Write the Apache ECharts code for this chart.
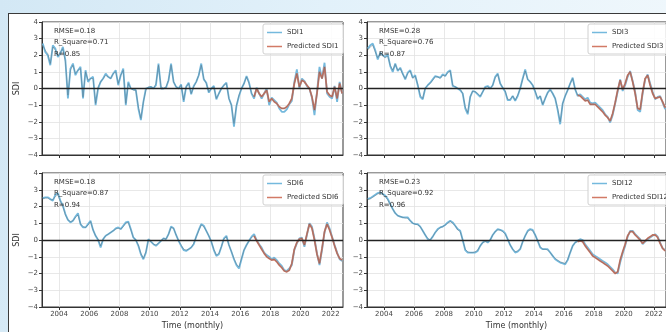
<!DOCTYPE html>
<html>
<head>
<meta charset="utf-8">
<script src="https://cdn.jsdelivr.net/npm/echarts@6/dist/echarts.min.js"></script>
<style>
  html, body { margin: 0; padding: 0; }
  body {
    width: 666px; height: 332px; overflow: hidden; position: relative;
    background: linear-gradient(100deg, #d3e8f5 0%, #e2f1fa 45%, #f1f8fc 100%);
  }
  #frame {
    position: absolute; left: 8px; top: 13px; width: 680px; height: 340px;
    background: #ffffff; border-left: 1.5px solid #3a3a3a; border-top: 1.5px solid #3a3a3a;
  }
  #chart { position: absolute; left: 0; top: 0; width: 666px; height: 332px; }
</style>
</head>
<body>
<div id="frame"></div>
<div id="chart"></div>
<script>
// Monthly-sampled drought index series (one value every two months, Dec 2002 onwards)
const startYear = 2002.92;
const stepYears = 1 / 6;
const testStartIndex = 84;   // first sample of the test period (early 2017)

const yearTicks = [2004, 2006, 2008, 2010, 2012, 2014, 2016, 2018, 2020, 2022];

const sdi1Obs = [
  2.7, 2.2, 2.0, 1.4, 2.6, 2.4,
  1.9, 2.1, 2.5, 1.7, -0.6, 1.2,
  1.5, 0.8, 1.1, 1.3, -0.6, 1.1,
  0.4, 0.6, 0.7, -1.0, 0.0, 0.4,
  0.6, 0.9, 0.7, 0.6, 0.9, 1.1,
  0.2, 0.8, 1.2, -1.0, 0.4, 0.0,
  -0.05, -0.1, -1.2, -1.9, -0.8, 0.0,
  0.05, 0.1, 0.0, 0.2, 1.5, 0.0,
  0.0, 0.05, 0.5, 1.5, 0.4, 0.1,
  0.0, 0.25, -0.8, 0.1, 0.35, -0.35,
  0.15, 0.4, 0.8, 1.5, 0.55, 0.35,
  -0.25, 0.0, 0.15, -0.65, -0.3, 0.0,
  0.2, 0.35, -0.6, -1.0, -2.3, -1.05,
  -0.45, 0.0, 0.3, 0.75, 0.35, -0.3,
  -0.6, 0.05, -0.3, -0.6, -0.3, 0.0,
  -1.0, -0.55, -0.7, -0.85, -1.2, -1.4,
  -1.4, -1.25, -0.95, -0.75, 0.4, 1.15,
  0.0, 0.6, 0.45, 0.15, 0.0, -0.55,
  -1.6, -0.2, 1.3, 0.6, 1.55, -0.3,
  -0.5, -0.6, 0.15, -0.8, 0.4, -0.3
];
const sdi1Pred = [
  2.6, 2.3, 2.1, 1.5, 2.5, 2.3,
  2.0, 2.2, 2.4, 1.6, -0.4, 1.1,
  1.4, 0.9, 1.1, 1.2, -0.5, 1.0,
  0.5, 0.6, 0.6, -0.9, 0.1, 0.4,
  0.6, 0.8, 0.7, 0.6, 0.9, 1.0,
  0.3, 0.8, 1.1, -0.9, 0.3, 0.0,
  -0.1, -0.1, -1.1, -1.8, -0.8, -0.1,
  0.1, 0.1, 0.0, 0.3, 1.4, 0.1,
  0.0, 0.1, 0.5, 1.4, 0.4, 0.1,
  0.0, 0.2, -0.7, 0.1, 0.3, -0.3,
  0.1, 0.4, 0.8, 1.4, 0.6, 0.3,
  -0.2, 0.0, 0.1, -0.6, -0.3, 0.0,
  0.2, 0.3, -0.6, -1.0, -2.1, -1.0,
  -0.4, 0.0, 0.3, 0.7, 0.3, -0.3,
  -0.5, 0.0, -0.3, -0.5, -0.3, -0.1,
  -0.8, -0.6, -0.8, -0.9, -1.1, -1.2,
  -1.2, -1.1, -0.9, -0.6, 0.3, 0.9,
  0.1, 0.5, 0.4, 0.2, 0.0, -0.5,
  -1.3, -0.3, 1.0, 0.6, 1.3, -0.2,
  -0.4, -0.5, 0.1, -0.6, 0.3, -0.3
];

const sdi3Obs = [
  2.4, 2.6, 2.7, 2.3, 1.75, 2.15,
  2.0, 1.9, 2.05, 1.35, 1.0, 1.5,
  1.05, 1.25, 0.9, 0.55, 0.95, 1.1,
  0.65, 0.8, 0.2, -0.5, -0.65, 0.0,
  0.2, 0.35, 0.55, 0.75, 0.7, 0.65,
  0.85, 0.75, 1.0, 1.1, 0.15, 0.1,
  0.0, -0.1, -0.3, -1.2, -1.55, -0.5,
  -0.15, -0.2, -0.35, -0.5, -0.2, 0.1,
  0.15, 0.0, 0.2, 0.7, 0.9, 0.3,
  0.05, -0.2, -0.7, -0.7, -0.45, -0.75,
  -0.45, 0.0, 0.6, 1.15, 0.55, 0.4,
  0.2, -0.2, -0.65, -0.45, -1.0, -0.6,
  -0.25, -0.05, -0.3, -0.6, -1.3, -2.15,
  -0.9, -0.45, -0.1, 0.3, 0.65, -0.05,
  -0.45, -0.35, -0.5, -0.65, -0.55, -0.85,
  -0.9, -0.85, -1.0, -1.15, -1.3, -1.55,
  -1.7, -2.05, -1.6, -0.9, -0.2, 0.55,
  -0.15, 0.2, 0.7, 1.05, 0.45, -0.2,
  -1.3, -1.4, -0.3, 0.55, 0.85, 0.3,
  -0.2, -0.65, -0.5, -0.45, -0.85, -1.25
];
const sdi3Pred = [
  2.3, 2.5, 2.6, 2.2, 1.85, 2.1,
  1.95, 1.85, 1.95, 1.4, 1.1, 1.45,
  1.1, 1.2, 0.85, 0.6, 0.9, 1.05,
  0.6, 0.75, 0.25, -0.4, -0.6, 0.05,
  0.2, 0.3, 0.5, 0.7, 0.7, 0.6,
  0.8, 0.75, 0.95, 1.05, 0.2, 0.1,
  0.0, -0.05, -0.3, -1.1, -1.45, -0.5,
  -0.15, -0.2, -0.3, -0.45, -0.2, 0.05,
  0.1, 0.0, 0.2, 0.65, 0.85, 0.3,
  0.05, -0.15, -0.65, -0.65, -0.45, -0.7,
  -0.4, 0.0, 0.55, 1.05, 0.55, 0.4,
  0.2, -0.15, -0.6, -0.45, -0.95, -0.6,
  -0.25, -0.1, -0.3, -0.6, -1.2, -2.0,
  -0.9, -0.45, -0.1, 0.3, 0.6, -0.05,
  -0.4, -0.45, -0.6, -0.75, -0.7, -0.95,
  -0.95, -0.95, -1.1, -1.25, -1.4, -1.6,
  -1.75, -1.95, -1.5, -0.85, -0.1, 0.5,
  -0.05, 0.3, 0.8, 1.0, 0.4, -0.3,
  -1.2, -1.25, -0.2, 0.6, 0.8, 0.2,
  -0.3, -0.6, -0.55, -0.5, -0.8, -1.15
];

const sdi6Obs = [
  2.5, 2.55, 2.55, 2.45, 2.35, 2.7,
  2.8, 2.35, 2.05, 1.55, 1.2, 1.05,
  1.15, 1.4, 1.6, 0.95, 0.75, 0.75,
  0.95, 1.15, 0.6, 0.25, 0.0, -0.45,
  0.05, 0.25, 0.35, 0.45, 0.55, 0.7,
  0.75, 0.65, 0.85, 1.05, 1.1, 0.65,
  0.15, 0.0, -0.35, -0.85, -1.15, -0.75,
  0.05, -0.1, -0.25, -0.35, -0.2, -0.05,
  0.1, 0.05, 0.35, 0.8, 0.7, 0.3,
  -0.05, -0.35, -0.6, -0.65, -0.55, -0.45,
  -0.25, 0.2, 0.6, 0.95, 0.85, 0.55,
  0.25, -0.1, -0.6, -0.95, -0.85, -0.4,
  0.1, 0.25, -0.3, -0.7, -1.15, -1.5,
  -1.7, -1.15, -0.6, -0.3, -0.05, 0.2,
  0.35, 0.0, -0.25, -0.45, -0.75, -0.9,
  -1.0, -1.15, -1.05, -1.2, -1.4, -1.55,
  -1.8, -1.85, -1.7, -1.5, -0.6, -0.2,
  0.1, 0.15, -0.4, 0.3, 1.0, 0.8,
  0.1, -0.8, -1.5, -0.6, 0.45, 1.05,
  0.7, 0.2, -0.3, -0.75, -1.15, -1.25
];
const sdi6Pred = [
  2.45, 2.5, 2.5, 2.4, 2.4, 2.6,
  2.7, 2.3, 2.0, 1.5, 1.2, 1.1,
  1.15, 1.35, 1.5, 0.95, 0.8, 0.75,
  0.9, 1.1, 0.6, 0.25, 0.05, -0.35,
  0.05, 0.25, 0.35, 0.45, 0.55, 0.65,
  0.7, 0.65, 0.8, 1.0, 1.05, 0.6,
  0.15, 0.0, -0.3, -0.8, -1.1, -0.7,
  0.0, -0.1, -0.25, -0.3, -0.2, -0.05,
  0.1, 0.05, 0.35, 0.75, 0.7, 0.3,
  -0.05, -0.3, -0.55, -0.6, -0.55, -0.45,
  -0.2, 0.2, 0.55, 0.9, 0.8, 0.55,
  0.25, -0.1, -0.55, -0.9, -0.8, -0.4,
  0.05, 0.2, -0.3, -0.7, -1.1, -1.45,
  -1.6, -1.1, -0.6, -0.3, -0.05, 0.15,
  0.25, -0.05, -0.3, -0.55, -0.8, -1.0,
  -1.1, -1.2, -1.15, -1.3, -1.5, -1.65,
  -1.85, -1.9, -1.8, -1.4, -0.55, -0.15,
  0.05, 0.1, -0.3, 0.35, 0.95, 0.7,
  0.0, -0.85, -1.4, -0.5, 0.5, 0.95,
  0.6, 0.15, -0.35, -0.8, -1.1, -1.2
];

const sdi12Obs = [
  2.45, 2.5, 2.6, 2.7, 2.8, 2.85,
  2.75, 2.65, 2.45, 2.15, 1.85, 1.6,
  1.45, 1.4, 1.35, 1.35, 1.35, 1.15,
  1.0, 0.95, 0.95, 0.8, 0.55, 0.3,
  0.05, 0.0, 0.2, 0.45, 0.65, 0.75,
  0.8, 0.9, 1.05, 1.15, 1.05, 0.85,
  0.65, 0.55, 0.0, -0.6, -0.75, -0.75,
  -0.75, -0.75, -0.65, -0.35, -0.15, -0.05,
  -0.15, 0.0, 0.3, 0.5, 0.65, 0.6,
  0.55, 0.4, 0.05, -0.3, -0.55, -0.75,
  -0.7, -0.55, -0.1, 0.25, 0.55, 0.65,
  0.6, 0.3, -0.05, -0.45, -0.55, -0.55,
  -0.55, -0.75, -0.95, -1.15, -1.25, -1.35,
  -1.4, -1.45, -1.2, -0.75, -0.35, -0.15,
  -0.05, 0.05, 0.0, -0.25, -0.45, -0.65,
  -0.85, -0.95, -1.05, -1.15, -1.25, -1.35,
  -1.45, -1.6, -1.75, -1.95, -2.0, -1.35,
  -0.8, -0.35, 0.2, 0.55, 0.55, 0.35,
  0.2, 0.05, -0.25, -0.1, 0.05, 0.15,
  0.25, 0.35, 0.2, -0.15, -0.5, -0.6
];
const sdi12Pred = [
  2.4, 2.45, 2.55, 2.65, 2.75, 2.8,
  2.7, 2.6, 2.4, 2.1, 1.85, 1.6,
  1.45, 1.4, 1.35, 1.3, 1.3, 1.15,
  1.0, 0.95, 0.9, 0.8, 0.55, 0.3,
  0.1, 0.0, 0.2, 0.45, 0.6, 0.75,
  0.8, 0.9, 1.0, 1.1, 1.0, 0.85,
  0.6, 0.5, 0.0, -0.55, -0.7, -0.75,
  -0.75, -0.7, -0.6, -0.35, -0.15, -0.1,
  -0.1, 0.0, 0.3, 0.5, 0.6, 0.6,
  0.5, 0.35, 0.05, -0.3, -0.55, -0.7,
  -0.65, -0.5, -0.1, 0.25, 0.5, 0.6,
  0.55, 0.3, -0.05, -0.4, -0.55, -0.55,
  -0.6, -0.75, -0.95, -1.1, -1.2, -1.3,
  -1.35, -1.4, -1.15, -0.75, -0.35, -0.15,
  -0.1, -0.05, -0.1, -0.35, -0.55, -0.75,
  -0.95, -1.05, -1.15, -1.25, -1.35, -1.45,
  -1.55, -1.7, -1.85, -2.0, -1.9, -1.2,
  -0.7, -0.25, 0.25, 0.5, 0.5, 0.3,
  0.15, 0.0, -0.2, -0.05, 0.1, 0.2,
  0.3, 0.3, 0.15, -0.2, -0.5, -0.65
];

const sdi1Stats = ['RMSE=0.18', 'R_Square=0.71', 'R=0.85'];
const sdi3Stats = ['RMSE=0.28', 'R_Square=0.76', 'R=0.87'];
const sdi6Stats = ['RMSE=0.18', 'R_Square=0.87', 'R=0.94'];
const sdi12Stats = ['RMSE=0.23', 'R_Square=0.92', 'R=0.96'];

const panelNames = ['SDI1', 'SDI3', 'SDI6', 'SDI12'];
const panelObs = [sdi1Obs, sdi3Obs, sdi6Obs, sdi12Obs];
const panelPred = [sdi1Pred, sdi3Pred, sdi6Pred, sdi12Pred];
const panelStats = [sdi1Stats, sdi3Stats, sdi6Stats, sdi12Stats];

// ---- layout & styling ----
const FONT = 'DejaVu Sans';
const gridBoxes = [
  { left: 42, top: 22, width: 301, height: 133 },
  { left: 367, top: 22, width: 301, height: 133 },
  { left: 42, top: 173, width: 301, height: 134 },
  { left: 367, top: 173, width: 301, height: 134 }
];
const legendPos = [
  { left: 263, top: 24 },
  { left: 588, top: 24 },
  { left: 263, top: 175 },
  { left: 588, top: 175 }
];
const OBS_COLOR = '#74b9dd';
const TEST_COLOR = '#d27a66';
const FIT_COLOR = '#4f5b62';
const GRID_COLOR = '#e2e2e2';

const times = panelObs[0].map((_, k) => +(startYear + k * stepYears).toFixed(4));
const pairs = (arr, from, to) => arr.slice(from, to).map((v, j) => [times[from + j], v]);

const fmtY = v => (v < 0 ? '\u2212' + Math.abs(v) : String(v));
const fmtX = v => String(Math.round(v));

const grid = [], xAxis = [], yAxis = [], series = [], legend = [], title = [];

gridBoxes.forEach((box, i) => {
  const isBottom = i >= 2;
  const isLeft = i % 2 === 0;
  grid.push(Object.assign({ show: true, borderColor: '#333', borderWidth: 1, containLabel: false }, box));

  xAxis.push({
    type: 'value', gridIndex: i, min: 2002.87, max: 2022.81,
    name: isBottom ? 'Time (monthly)' : '',
    nameLocation: 'middle', nameGap: 15,
    nameTextStyle: { fontFamily: FONT, fontSize: 8, color: '#333' },
    axisLine: { show: true, onZero: false, lineStyle: { color: '#333', width: 1 } },
    axisTick: { show: true, length: 3, customValues: yearTicks, lineStyle: { color: '#333' } },
    axisLabel: {
      show: isBottom, customValues: yearTicks, formatter: fmtX, margin: 4,
      fontFamily: FONT, fontSize: 7, color: '#444'
    },
    splitLine: { show: true, lineStyle: { color: GRID_COLOR, width: 0.8 } }
  });

  yAxis.push({
    type: 'value', gridIndex: i, min: -4, max: 4, interval: 1,
    name: isLeft ? 'SDI' : '',
    nameLocation: 'middle', nameGap: 21, nameRotate: 90,
    nameTextStyle: { fontFamily: FONT, fontSize: 8, color: '#333' },
    axisLine: { show: true, lineStyle: { color: '#333', width: 1 } },
    axisTick: { show: true, length: 3, lineStyle: { color: '#333' } },
    axisLabel: { formatter: fmtY, margin: 4, fontFamily: FONT, fontSize: 7, color: '#444' },
    splitLine: { show: true, lineStyle: { color: GRID_COLOR, width: 0.8 } }
  });

  const name = panelNames[i];
  const obs = panelObs[i];
  const pred = panelPred[i];

  // observed index over the whole record
  series.push({
    name: name, type: 'line', xAxisIndex: i, yAxisIndex: i,
    data: pairs(obs, 0, obs.length),
    symbol: 'none', showSymbol: false, silent: true, animation: false,
    lineStyle: { color: OBS_COLOR, width: 1.8 },
    itemStyle: { color: OBS_COLOR },
    markLine: {
      silent: true, symbol: 'none', animation: false, label: { show: false },
      lineStyle: { color: '#222', width: 1.3, type: 'solid' },
      data: [{ yAxis: 0 }]
    },
    z: 2
  });
  // model output in the test period
  series.push({
    name: 'Predicted ' + name, type: 'line', xAxisIndex: i, yAxisIndex: i,
    data: pairs(pred, testStartIndex, pred.length),
    symbol: 'none', showSymbol: false, silent: true, animation: false,
    lineStyle: { color: TEST_COLOR, width: 1.8 },
    itemStyle: { color: TEST_COLOR },
    z: 3
  });
  // model output drawn thin over the full record
  series.push({
    name: name + ' model', type: 'line', xAxisIndex: i, yAxisIndex: i,
    data: pairs(pred, 0, pred.length),
    symbol: 'none', showSymbol: false, silent: true, animation: false,
    lineStyle: { color: FIT_COLOR, width: 0.6, opacity: 0.6 },
    itemStyle: { color: FIT_COLOR },
    z: 4
  });

  legend.push(Object.assign({
    orient: 'vertical', data: [name, 'Predicted ' + name],
    icon: 'rect', itemWidth: 15, itemHeight: 1.5, itemGap: 7, padding: [5, 5, 4, 4],
    borderColor: '#d0d0d0', borderWidth: 1, borderRadius: 2,
    backgroundColor: 'rgba(255,255,255,0.85)',
    textStyle: { fontFamily: FONT, fontSize: 7, color: '#333' },
    selectedMode: false
  }, legendPos[i]));

  title.push({
    text: panelStats[i].join('\n'),
    left: box.left + 12, top: box.top + 3, padding: 0,
    textStyle: { fontFamily: FONT, fontSize: 7, fontWeight: 'normal', color: '#333', lineHeight: 11.5 }
  });
});

const chart = echarts.init(document.getElementById('chart'), null, { renderer: 'canvas' });
chart.setOption({
  backgroundColor: 'transparent',
  animation: false,
  title, legend, grid, xAxis, yAxis, series
});
</script>
</body>
</html>
